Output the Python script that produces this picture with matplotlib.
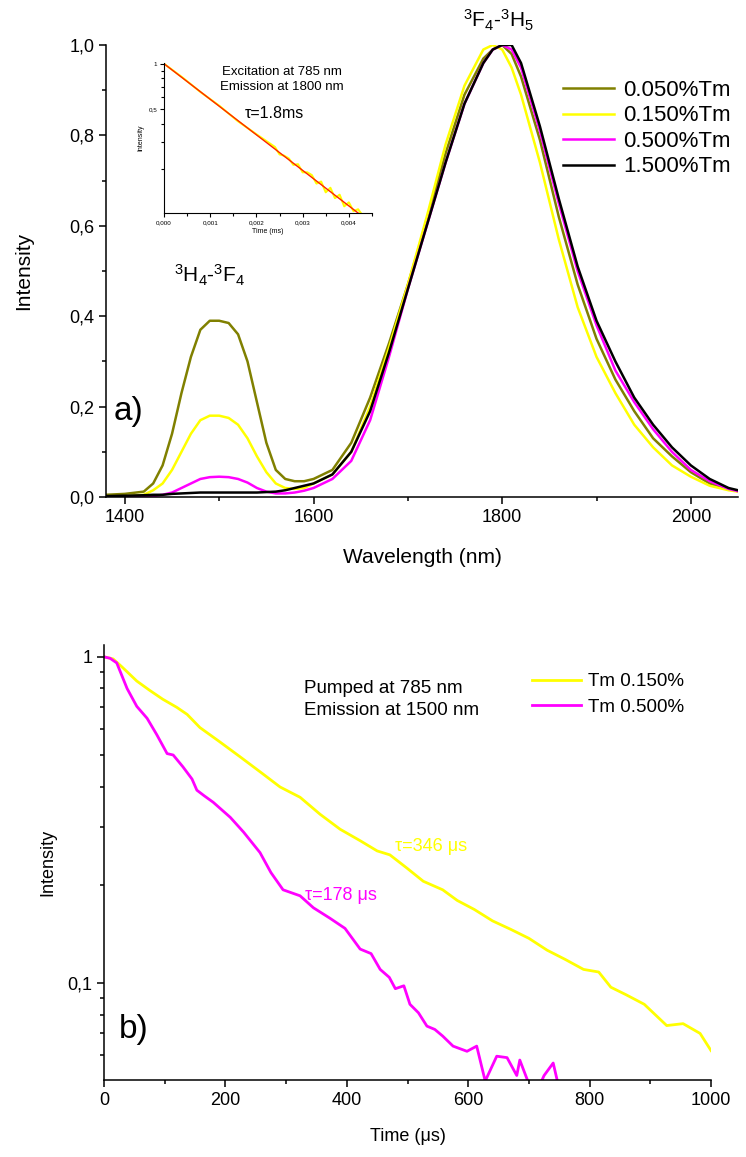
import matplotlib
matplotlib.use('Agg')
import matplotlib.pyplot as plt
from matplotlib.ticker import MultipleLocator, FixedLocator, FixedFormatter, LogLocator, NullFormatter

plt.rcParams['font.family'] = ['Liberation Sans', 'DejaVu Sans']
plt.rcParams['mathtext.default'] = 'regular'

# ---- panel a: emission spectra ----
wavelength = [1380, 1400, 1420, 1430, 1440, 1450, 1460, 1470, 1480, 1490, 1500, 1510,
              1520, 1530, 1540, 1550, 1560, 1570, 1580, 1590, 1600, 1620, 1640, 1660,
              1680, 1700, 1720, 1740, 1760, 1780, 1790, 1800, 1810, 1820, 1840, 1860,
              1880, 1900, 1920, 1940, 1960, 1980, 2000, 2020, 2040, 2050]
tm_050 = [0.005, 0.007, 0.012, 0.03, 0.07, 0.14, 0.23, 0.31, 0.37, 0.39, 0.39, 0.385,
          0.36, 0.30, 0.21, 0.12, 0.06, 0.04, 0.035, 0.035, 0.04, 0.06, 0.12, 0.22,
          0.34, 0.47, 0.61, 0.76, 0.89, 0.97, 0.99, 1.0, 0.98, 0.93, 0.79, 0.62,
          0.47, 0.35, 0.26, 0.19, 0.13, 0.09, 0.055, 0.03, 0.017, 0.013]
tm_150 = [0.0, 0.002, 0.005, 0.015, 0.03, 0.06, 0.10, 0.14, 0.17, 0.18, 0.18, 0.175,
          0.16, 0.13, 0.09, 0.055, 0.03, 0.02, 0.018, 0.02, 0.03, 0.05, 0.10, 0.20,
          0.33, 0.47, 0.62, 0.78, 0.91, 0.99, 1.0, 0.99, 0.95, 0.89, 0.74, 0.57,
          0.42, 0.31, 0.23, 0.16, 0.11, 0.07, 0.045, 0.025, 0.015, 0.012]
tm_500 = [0.0, 0.0, 0.0, 0.002, 0.005, 0.01, 0.02, 0.03, 0.04, 0.044, 0.045, 0.044,
          0.04, 0.032, 0.02, 0.012, 0.008, 0.008, 0.01, 0.014, 0.02, 0.04, 0.08, 0.17,
          0.31, 0.46, 0.60, 0.74, 0.87, 0.96, 0.99, 1.0, 0.99, 0.95, 0.81, 0.65,
          0.50, 0.38, 0.28, 0.21, 0.15, 0.10, 0.06, 0.035, 0.018, 0.013]
tm_1500 = [0.002, 0.003, 0.004, 0.005, 0.005, 0.007, 0.008, 0.009, 0.01, 0.01, 0.01, 0.01,
           0.01, 0.01, 0.01, 0.011, 0.012, 0.015, 0.02, 0.025, 0.03, 0.05, 0.10, 0.19,
           0.32, 0.46, 0.60, 0.74, 0.87, 0.96, 0.99, 1.0, 1.0, 0.96, 0.82, 0.66,
           0.51, 0.39, 0.30, 0.22, 0.16, 0.11, 0.07, 0.04, 0.02, 0.015]
spec_labels = ['0.050%Tm', '0.150%Tm', '0.500%Tm', '1.500%Tm']
spec_colors = ['#808000', '#ffff00', '#ff00ff', '#000000']

# inset decay (1800 nm emission)
inset_t = [0, 0.0004, 0.0008, 0.0012, 0.0016, 0.002, 0.0024, 0.0025, 0.0026, 0.0027,
           0.0028, 0.0029, 0.003, 0.0031, 0.0032, 0.0033, 0.0034, 0.0035, 0.0036,
           0.0037, 0.0038, 0.0039, 0.004, 0.0041, 0.0042, 0.0043]
inset_v = [1.0, 0.81, 0.645, 0.525, 0.415, 0.34, 0.28, 0.25, 0.245, 0.235,
           0.213, 0.215, 0.19, 0.19, 0.182, 0.16, 0.165, 0.14, 0.15,
           0.128, 0.135, 0.113, 0.12, 0.105, 0.108, 0.098]
fit_t = [0, 0.0042]
fit_v = [1.0, 0.102]

# ---- panel b: decays at 1500 nm ----
time_150 = [0, 15, 30, 54, 75, 97, 120, 137, 158, 190, 224, 260, 290, 323, 356, 389,
            422, 450, 471, 499, 526, 558, 582, 610, 640, 670, 700, 730, 760, 790, 815,
            835, 860, 890, 927, 954, 982, 1000]
decay_150 = [1.0, 0.986, 0.93, 0.843, 0.79, 0.741, 0.70, 0.666, 0.607, 0.55, 0.494, 0.44,
             0.399, 0.371, 0.329, 0.296, 0.273, 0.254, 0.247, 0.225, 0.205, 0.193, 0.179,
             0.168, 0.155, 0.146, 0.137, 0.126, 0.118, 0.110, 0.108, 0.097, 0.092, 0.086,
             0.074, 0.075, 0.070, 0.062]
time_500 = [0, 10, 21, 38, 54, 71, 87, 104, 114, 130, 145, 153, 165, 180, 208, 230, 257,
            275, 295, 323, 345, 372, 397, 422, 440, 455, 470, 480, 494, 504, 518, 532,
            545, 558, 575, 598, 614, 628, 647, 664, 680, 685, 700, 712, 725, 740, 748]
decay_500 = [1.0, 0.99, 0.958, 0.80, 0.705, 0.648, 0.577, 0.505, 0.50, 0.46, 0.422, 0.39,
             0.375, 0.358, 0.322, 0.29, 0.251, 0.218, 0.193, 0.185, 0.17, 0.158, 0.147,
             0.127, 0.123, 0.11, 0.104, 0.096, 0.098, 0.086, 0.081, 0.0737, 0.072, 0.0687,
             0.064, 0.0617, 0.064, 0.050, 0.0596, 0.059, 0.052, 0.058, 0.049, 0.046,
             0.052, 0.0568, 0.049]

fig = plt.figure(figsize=(7.46, 11.57), dpi=100)


def style_axes(ax, lw=1.1):
    for s in ['top', 'right']:
        ax.spines[s].set_visible(False)
    for s in ['left', 'bottom']:
        ax.spines[s].set_linewidth(lw)
    ax.tick_params(which='major', direction='out', length=5, width=lw)
    ax.tick_params(which='minor', direction='out', length=3, width=lw)


# panel a
ax1 = fig.add_axes([0.1421, 0.5704, 0.8472, 0.3907])
for vals, lab, col in zip([tm_050, tm_150, tm_500, tm_1500], spec_labels, spec_colors):
    ax1.plot(wavelength, vals, color=col, lw=1.8, label=lab)
ax1.set_xlim(1380, 2050)
ax1.set_ylim(0, 1.0)
ax1.xaxis.set_major_locator(MultipleLocator(200))
ax1.xaxis.set_minor_locator(MultipleLocator(100))
ax1.yaxis.set_major_locator(MultipleLocator(0.2))
ax1.yaxis.set_minor_locator(MultipleLocator(0.1))
ax1.yaxis.set_major_formatter(plt.FuncFormatter(lambda v, p: ('%.1f' % v).replace('.', ',')))
style_axes(ax1)
ax1.tick_params(labelsize=13)
ax1.set_xlabel('Wavelength (nm)', fontsize=15, labelpad=16)
ax1.set_ylabel('Intensity', fontsize=15, labelpad=26)
ax1.text(1490, 0.49, '$^3H_4$-$^3F_4$', fontsize=15, ha='center', va='center')
ax1.text(1796, 1.055, '$^3F_4$-$^3H_5$', fontsize=15, ha='center', va='center', clip_on=False)
ax1.text(1388, 0.19, 'a)', fontsize=24, ha='left', va='center')
ax1.legend(loc='upper left', bbox_to_anchor=(563 / 746, 1 - 80 / 1157),
           bbox_transform=fig.transFigure, frameon=False, fontsize=16,
           handlelength=2.3, handletextpad=0.4, labelspacing=0.2,
           borderpad=0, borderaxespad=0)

# inset
axi = fig.add_axes([0.2198, 0.8159, 0.2788, 0.1296])
axi.plot(inset_t, inset_v, color='#ffff00', lw=1.5)
axi.plot(fit_t, fit_v, color='#ff2000', lw=1.0)
axi.set_yscale('log')
axi.set_xlim(0, 0.0045)
axi.set_ylim(0.102, 1.01)
axi.xaxis.set_major_locator(MultipleLocator(0.001))
axi.xaxis.set_minor_locator(MultipleLocator(0.0005))
axi.xaxis.set_major_formatter(plt.FuncFormatter(lambda v, p: ('%.3f' % v).replace('.', ',')))
axi.yaxis.set_major_locator(FixedLocator([0.5, 1.0]))
axi.yaxis.set_major_formatter(FixedFormatter(['0,5', '1']))
axi.yaxis.set_minor_locator(FixedLocator([0.2, 0.3, 0.4, 0.6, 0.7, 0.8, 0.9]))
axi.yaxis.set_minor_formatter(NullFormatter())
style_axes(axi, lw=0.8)
axi.tick_params(which='major', length=3)
axi.tick_params(which='minor', length=2)
axi.tick_params(labelsize=4.5, pad=2)
axi.set_xlabel('Time (ms)', fontsize=5, labelpad=2)
axi.set_ylabel('Intensity', fontsize=5, labelpad=3)
axi.text(0.00255, 0.96, 'Excitation at 785 nm\nEmission at 1800 nm', fontsize=9.5,
         ha='center', va='top', linespacing=1.25)
axi.text(0.0024, 0.47, '\u03c4=1.8ms', fontsize=11.5, ha='center', va='center')

# panel b
ax2 = fig.add_axes([0.1394, 0.0666, 0.8137, 0.376])
ax2.plot(time_150, decay_150, color='#ffff00', lw=2, label='Tm 0.150%')
ax2.plot(time_500, decay_500, color='#ff00ff', lw=2, label='Tm 0.500%')
ax2.set_yscale('log')
ax2.set_xlim(0, 1000)
ax2.set_ylim(0.0504, 1.088)
ax2.xaxis.set_major_locator(MultipleLocator(200))
ax2.xaxis.set_minor_locator(MultipleLocator(100))
ax2.yaxis.set_major_locator(FixedLocator([0.1, 1.0]))
ax2.yaxis.set_major_formatter(FixedFormatter(['0,1', '1']))
ax2.yaxis.set_minor_locator(LogLocator(base=10, subs=range(2, 10)))
ax2.yaxis.set_minor_formatter(NullFormatter())
style_axes(ax2)
ax2.tick_params(labelsize=13)
ax2.set_xlabel('Time (\u03bcs)', fontsize=13, labelpad=14)
ax2.set_ylabel('Intensity', fontsize=13, labelpad=8)
ax2.text(330, 0.74, 'Pumped at 785 nm\nEmission at 1500 nm', fontsize=13.5,
         ha='left', va='center', linespacing=1.4)
ax2.text(480, 0.262, '\u03c4=346 \u03bcs', fontsize=13, color='#ffff00', ha='left', va='center')
ax2.text(331, 0.186, '\u03c4=178 \u03bcs', fontsize=13, color='#ff00ff', ha='left', va='center')
ax2.text(24, 0.072, 'b)', fontsize=24, ha='left', va='center')
ax2.legend(loc='upper left', bbox_to_anchor=(532 / 746, 1 - 673 / 1157),
           bbox_transform=fig.transFigure, frameon=False, fontsize=13.5,
           handlelength=2.6, handletextpad=0.4, labelspacing=0.45,
           borderpad=0, borderaxespad=0)

fig.savefig('out.png', dpi=100)
